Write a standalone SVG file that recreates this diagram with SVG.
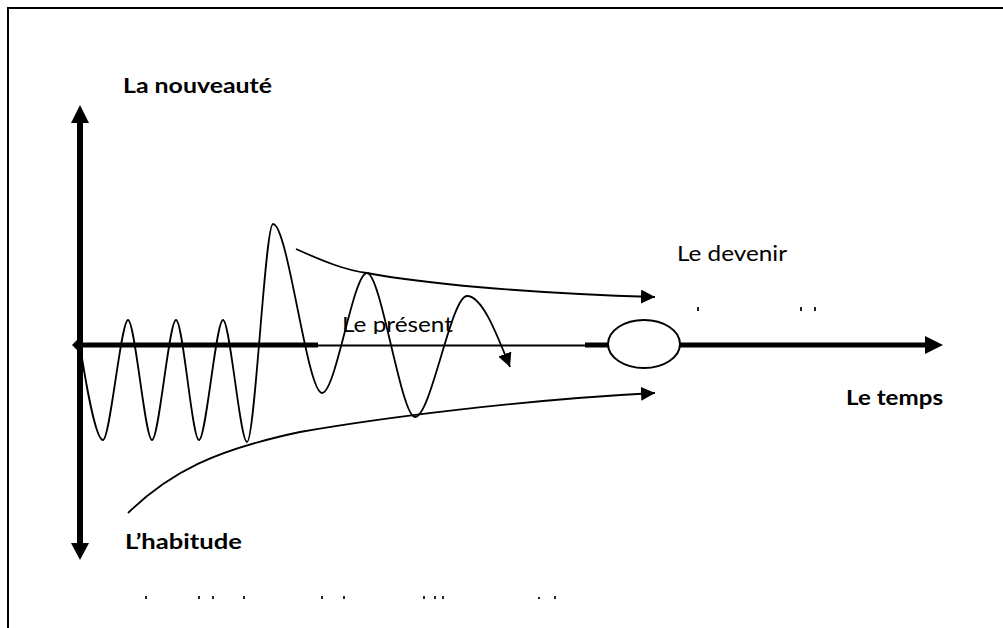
<svg xmlns="http://www.w3.org/2000/svg" width="1003" height="628" viewBox="0 0 1003 628">
<style>
.lbl{font-family:Lato,"Open Sans","Liberation Sans",Arial,sans-serif;fill:#000}
.b{font-weight:bold}
.thin{fill:none;stroke:#000;stroke-width:1.8}
.frag{fill:#222}
</style>
<defs>
<marker id="ah" viewBox="0 0 14 14" refX="14" refY="7" markerWidth="14" markerHeight="14" markerUnits="userSpaceOnUse" orient="auto">
<path d="M0,0 L14,7 L0,14 Z" fill="#000"/>
</marker>
<clipPath id="clipPresent"><rect x="330" y="300" width="140" height="34"/></clipPath>
</defs>
<rect width="1003" height="628" fill="#fff"/>
<g id="frame">
<path d="M8,628 L8,8 L1003,8" fill="none" stroke="#000" stroke-width="2"/>
</g>
<g id="axes">
<line x1="80" y1="121" x2="80" y2="545" stroke="#000" stroke-width="6"/>
<polygon points="80,105 89,123 71,123" fill="#000"/>
<polygon points="80,560 89,543 71,543" fill="#000"/>
<line x1="80" y1="345" x2="318" y2="345" stroke="#000" stroke-width="5"/>
<polygon points="72,345 77,340 82,345 77,350" fill="#000"/>
<line x1="318" y1="345.5" x2="586" y2="345.5" stroke="#000" stroke-width="2"/>
<line x1="585" y1="345" x2="610" y2="345" stroke="#000" stroke-width="5"/>
<line x1="678" y1="345" x2="927" y2="345" stroke="#000" stroke-width="5"/>
<polygon points="943,345 925,336 925,354" fill="#000"/>
</g>
<g id="node-present-point">
<ellipse cx="644" cy="344" rx="36" ry="24" fill="#fff" stroke="#000" stroke-width="2"/>
</g>
<g id="connectors">
<path id="wave" class="thin" marker-end="url(#ah)" d="M80,345 C86,385 96,440 103,440 C110,440 121,320 128,320 C135,320 145,440 152,440 C159,440 169,320 176,320 C183,320 192,440 199,440 C206,440 216,320 223,320 C230,320 240,442 247,442 C255,442 265,224 273,224 C288,224 307,393 322,393 C336,393 353,273 367,273 C381,273 401,417 415,417 C431,417 451,296 467,296 C482,296 496,332 510,367"/>
<path id="upper" class="thin" marker-end="url(#ah)" d="M296,249 C325,262 345,270 367,273 C420,283 520,293 655,297"/>
<path id="lower" class="thin" marker-end="url(#ah)" d="M128,513 C170,472 215,450 300,432 C380,418 520,400 655,393"/>
</g>
<g id="label-nouveaute"><text class="lbl b" x="123" y="93" font-size="21" textLength="149" lengthAdjust="spacingAndGlyphs">La nouveauté</text></g>
<g id="label-habitude"><text class="lbl b" x="125" y="549" font-size="21" textLength="117" lengthAdjust="spacingAndGlyphs">L’habitude</text></g>
<g id="label-temps"><text class="lbl b" x="846" y="405" font-size="21" textLength="97" lengthAdjust="spacingAndGlyphs">Le temps</text></g>
<g id="label-devenir"><text class="lbl" x="677" y="261" font-size="21" textLength="110" lengthAdjust="spacingAndGlyphs">Le devenir</text></g>
<g id="label-present"><text class="lbl" x="342" y="332" font-size="21" textLength="111" lengthAdjust="spacingAndGlyphs" clip-path="url(#clipPresent)">Le présent</text></g>
<g id="fragments">
<rect class="frag" x="697" y="307" width="2" height="4"/>
<rect class="frag" x="800" y="307" width="2" height="4"/>
<rect class="frag" x="814" y="307" width="2" height="4"/>
<rect class="frag" x="145" y="596" width="2" height="3"/>
<rect class="frag" x="198" y="596" width="2" height="3"/>
<rect class="frag" x="212" y="596" width="2" height="3"/>
<rect class="frag" x="243" y="596" width="2" height="3"/>
<rect class="frag" x="321" y="596" width="2" height="3"/>
<rect class="frag" x="343" y="596" width="2" height="3"/>
<rect class="frag" x="423" y="596" width="2" height="3"/>
<rect class="frag" x="434" y="596" width="2" height="3"/>
<rect class="frag" x="442" y="596" width="2" height="3"/>
<rect class="frag" x="538" y="597" width="2" height="2"/>
<rect class="frag" x="554" y="596" width="2" height="3"/>
</g>
</svg>
